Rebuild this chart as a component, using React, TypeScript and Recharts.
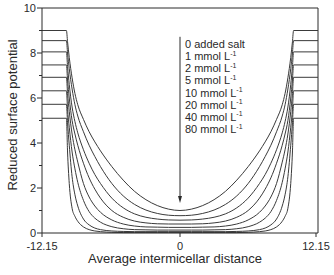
import React from 'react';
import { LineChart, Line, XAxis, YAxis, ReferenceLine, ReferenceDot } from 'recharts';

// left half of the profile (x from the cell edge to the midpoint); the plot is symmetric
const distance = [-12.15, -10, -9.9, -9.75, -9.5, -9.25, -9, -8.5, -8, -7.5, -7, -6, -5, -4, -3, -2, -1, 0];

const salt0 = [9.0, 9.0, 8.5, 7.8, 6.9, 6.2, 5.7, 5.05, 4.5, 4.05, 3.65, 2.95, 2.35, 1.85, 1.48, 1.22, 1.06, 1.0];
const salt1 = [8.55, 8.55, 8.0, 7.3, 6.4, 5.7, 5.2, 4.5, 3.9, 3.4, 2.95, 2.2, 1.65, 1.27, 1.02, 0.87, 0.79, 0.77];
const salt2 = [8.05, 8.05, 7.4, 6.6, 5.6, 4.95, 4.45, 3.7, 3.1, 2.6, 2.2, 1.55, 1.12, 0.85, 0.7, 0.62, 0.58, 0.57];
const salt5 = [7.47, 7.47, 6.8, 6.0, 5.0, 4.4, 3.9, 3.1, 2.45, 1.95, 1.55, 1.0, 0.7, 0.53, 0.45, 0.41, 0.4, 0.4];
const salt10 = [6.92, 6.92, 6.2, 5.4, 4.4, 3.7, 3.15, 2.2, 1.6, 1.2, 0.92, 0.58, 0.4, 0.31, 0.27, 0.26, 0.25, 0.25];
const salt20 = [6.32, 6.32, 5.5, 4.7, 3.6, 2.85, 2.25, 1.45, 0.95, 0.66, 0.48, 0.28, 0.19, 0.15, 0.14, 0.13, 0.13, 0.13];
const salt40 = [5.72, 5.72, 4.9, 3.9, 2.5, 1.7, 1.2, 0.62, 0.36, 0.22, 0.15, 0.09, 0.07, 0.06, 0.06, 0.06, 0.06, 0.06];
const salt80 = [5.1, 5.1, 3.6, 2.2, 1.1, 0.74, 0.52, 0.27, 0.15, 0.09, 0.06, 0.03, 0.02, 0.02, 0.02, 0.02, 0.02, 0.02];

const legendLabels = ['0 added salt', '1 mmol L', '2 mmol L', '5 mmol L', '10 mmol L', '20 mmol L', '40 mmol L', '80 mmol L'];
const xTicks = [-12.15, 0, 12.15];
const yTicks = [0, 1, 2, 3, 4, 5, 6, 7, 8, 9, 10];

const series = [salt0, salt1, salt2, salt5, salt10, salt20, salt40, salt80];
const keys = ['s0', 's1', 's2', 's5', 's10', 's20', 's40', 's80'];

const makeRow = (i: number, x: number) => {
  const row: any = { x };
  keys.forEach((k, j) => (row[k] = series[j][i]));
  return row;
};
const left = distance.map((x, i) => makeRow(i, x));
const right = distance
  .slice(0, -1)
  .map((x, i) => makeRow(i, -x))
  .reverse();
const data = [...left, ...right];

const FONT = '"Liberation Sans", Arial, sans-serif';
const INK = '#2a2a2a';

const YTick = ({ x, y, payload }: any) => {
  const major = payload.value % 2 === 0;
  return (
    <g>
      <line x1={x} x2={x - (major ? 5 : 3)} y1={y} y2={y} stroke={INK} />
      {major && (
        <text x={x - 6} y={y} dy={4} textAnchor="end" fontSize={11} fontFamily={FONT} fill={INK}>
          {payload.value}
        </text>
      )}
    </g>
  );
};

const XTick = ({ x, y, payload }: any) => (
  <g>
    <line x1={x} x2={x} y1={y} y2={y + 4} stroke={INK} />
    <text x={x} y={y + 17} textAnchor="middle" fontSize={11} fontFamily={FONT} fill={INK}>
      {payload.value}
    </text>
  </g>
);

const LegendBlock = ({ cx, cy }: any) => (
  <g>
    {legendLabels.map((t, i) => (
      <text key={t} x={cx} y={cy + i * 12.14} fontSize={11} fontFamily={FONT} fill={INK}>
        {t}
        {i > 0 && (
          <tspan fontSize={7} dy={-4.5}>
            -1
          </tspan>
        )}
      </text>
    ))}
  </g>
);

const ArrowHead = ({ cx, cy }: any) => (
  <path d={`M${cx - 2},${cy - 7} L${cx + 2},${cy - 7} L${cx},${cy} Z`} fill={INK} />
);

export default function App() {
  return (
    <div style={{ position: 'absolute', left: 0, top: 0, width: 334, height: 275, background: '#fff' }}>
      <LineChart width={334} height={275} data={data} margin={{ top: 8, right: 16, bottom: 0, left: 0 }}>
        <XAxis
          dataKey="x"
          type="number"
          domain={[-12.15, 12.15]}
          ticks={xTicks}
          tick={<XTick />}
          tickLine={false}
          tickSize={0}
          tickMargin={0}
          height={42}
          stroke={INK}
          allowDataOverflow
        />
        <YAxis
          type="number"
          domain={[0, 10]}
          ticks={yTicks}
          tick={<YTick />}
          tickLine={false}
          tickSize={0}
          tickMargin={0}
          width={42}
          stroke={INK}
          interval={0}
        />
        <ReferenceLine y={10} stroke={INK} />
        <ReferenceLine x={12.15} stroke={INK} />
        {keys.map((k) => (
          <Line
            key={k}
            dataKey={k}
            type="monotone"
            stroke="#3a3a3a"
            strokeWidth={1}
            dot={false}
            isAnimationActive={false}
          />
        ))}
        <ReferenceLine
          segment={[
            { x: 0, y: 8.72 },
            { x: 0, y: 1.6 },
          ]}
          stroke={INK}
        />
        <ReferenceDot x={0} y={1.33} shape={<ArrowHead />} />
        <ReferenceDot x={0.44} y={8.22} shape={<LegendBlock />} />
      </LineChart>
      <div
        style={{
          position: 'absolute',
          left: 175,
          top: 252,
          transform: 'translateX(-50%)',
          whiteSpace: 'nowrap',
          fontFamily: FONT,
          fontSize: 13,
          color: INK,
          lineHeight: '13px',
        }}
      >
        Average intermicellar distance
      </div>
      <div
        style={{
          position: 'absolute',
          left: 12,
          top: 115,
          transform: 'translate(-50%, -50%) rotate(-90deg)',
          whiteSpace: 'nowrap',
          fontFamily: FONT,
          fontSize: 13,
          color: INK,
          lineHeight: '13px',
        }}
      >
        Reduced surface potential
      </div>
    </div>
  );
}
